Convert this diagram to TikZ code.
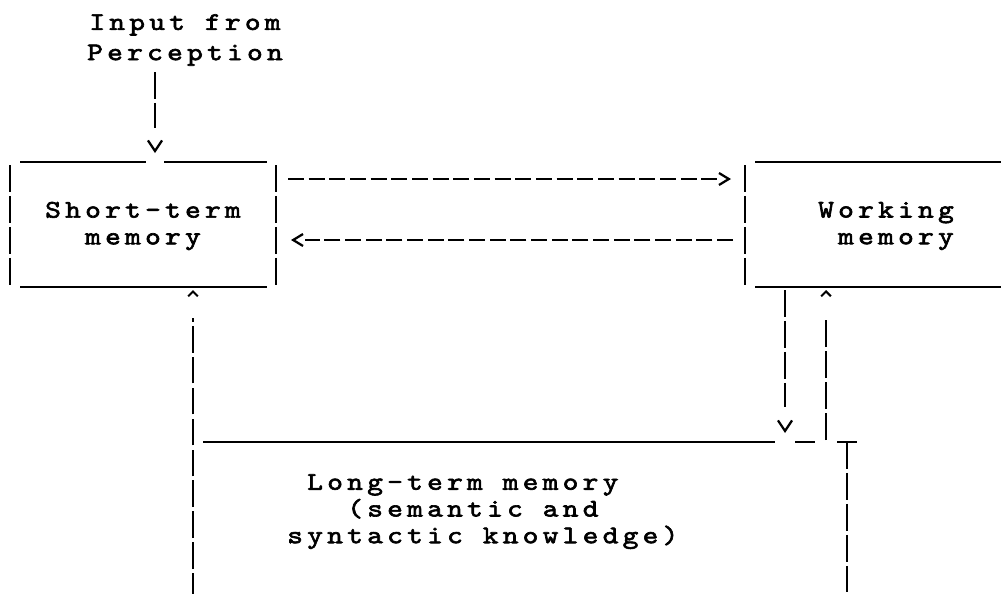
\documentclass[tikz,border=0pt]{standalone}
\usepackage{fontspec}
\newfontfamily\asciifont{lmmono10-regular.otf}[FakeStretch=1.18,LetterSpace=17,FakeBold=2.5]
\usetikzlibrary{arrows.meta}

\tikzset{
    asciitext/.style={font=\asciifont\fontsize{18}{19}\selectfont, inner sep=0pt, align=center},
    rule/.style={line width=1.9pt},
    bar/.style={line width=1.9pt, dash pattern=on 19pt off 3pt},
    flow/.style={line width=1.9pt, dash pattern=on 11.4pt off 3.3pt},
    headonly/.style={draw=none},
    chev/.tip={Straight Barb[length=7pt,width=8.5pt,line width=1.6pt]},
    vchev/.tip={Straight Barb[length=7.5pt,width=10pt,line width=1.6pt]},
    hat/.tip={Straight Barb[length=3.5pt,width=7pt,line width=1.4pt]},
}

\begin{document}
\begin{tikzpicture}[x=0.025cm,y=-0.025cm]
    \useasboundingbox (0,0) rectangle (1001,593);

    % Input from perception
    \node[asciitext, font=\asciifont\fontsize{18}{21.5}\selectfont] (input) at (185,40) {Input from\\Perception};
    \coordinate (inend) at (155,153);
    \draw[bar,shorten <=0.15cm,shorten >=0.63cm] (input.south -| inend) -- (inend);
    \draw[rule,-vchev] ([yshift=1pt]inend) -- (inend);

    % Short-term memory box
    \node[asciitext] (stm) at (143,226) {Short-term\\memory};
    \draw[rule] (20,162) -- (146,162) (164,162) -- (267,162) (20,287) -- (267,287);
    \draw[bar] (10,165) -- (10,287) (276,165) -- (276,287);

    % Working memory box
    \node[asciitext, align=right] (wm) at (886,226) {Working\\memory};
    \draw[rule] (755,162) -- (1001,162) (755,287) -- (1001,287);
    \draw[bar] (745,165) -- (745,287);

    % Transfers between the two boxes
    \coordinate (stmout) at (288,179);
    \coordinate (wmin) at (731,179);
    \coordinate (wmout) at (733,240);
    \coordinate (stmin) at (291,240);
    \draw[flow,shorten >=0.35cm] (stmout) -- (wmin);
    \draw[rule,-chev] ([xshift=-1pt]wmin) -- (wmin);
    \draw[flow,shorten >=0.35cm] (wmout) -- (stmin);
    \draw[rule,-chev] ([xshift=1pt]stmin) -- (stmin);

    % Long-term memory
    \node[asciitext, align=left, anchor=north west] (ltm) at (287,474)
        {\hspace*{0.5cm}Long-term memory\\\hspace*{1.5cm}(semantic and\\syntactic knowledge)};
    \draw[rule] (203,442) -- (775,442) (795,442) -- (815,442) (837,442) -- (857,442);
    \draw[bar] (847,442) -- (847,600);

    % Links with long-term memory
    \coordinate (ltmleft) at (193,600);
    \coordinate (stmfoot) at (193,290);
    \coordinate (wmfootl) at (785,290);
    \coordinate (wmfootr) at (826,290);
    \coordinate (ltmtopl) at (785,433);
    \coordinate (ltmtopr) at (826,440);
    \draw[bar,shorten >=0.7cm] (ltmleft) -- (stmfoot);
    \draw[rule,-hat] ([yshift=-1pt]stmfoot) -- (stmfoot);
    \draw[bar,shorten >=0.65cm] (wmfootl) -- (ltmtopl);
    \draw[rule,-vchev] ([yshift=1pt]ltmtopl) -- (ltmtopl);
    \draw[bar,shorten >=0.7cm] (ltmtopr) -- (wmfootr);
    \draw[rule,-hat] ([yshift=-1pt]wmfootr) -- (wmfootr);
\end{tikzpicture}
\end{document}
